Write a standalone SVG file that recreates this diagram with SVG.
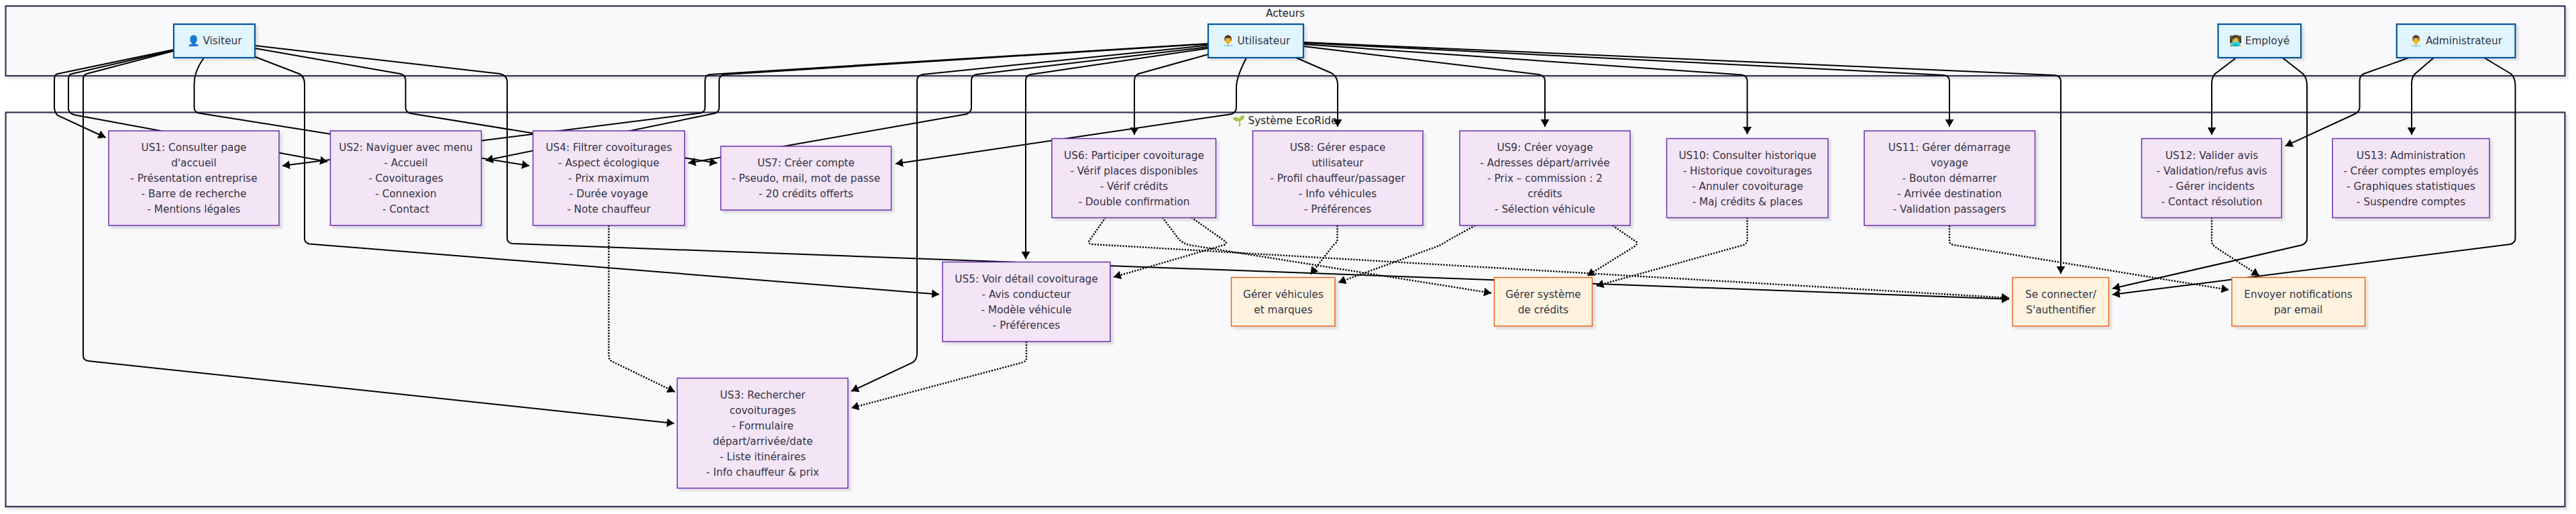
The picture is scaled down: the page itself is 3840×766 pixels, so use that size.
<svg xmlns="http://www.w3.org/2000/svg" width="3840" height="766" viewBox="0 0 3840 766">
<style>
text{font-family:"DejaVu Sans","Noto Sans",sans-serif;font-size:15.3px;fill:#333344;text-anchor:middle}
.frame{fill:#f9f9fb;stroke:#333355;stroke-width:2.2;filter:url(#sh)}
.actor{fill:#e1f5fe;stroke:#01579b;stroke-width:2.2;filter:url(#sh)}
.us{fill:#f3e5f5;stroke:#6a2db0;stroke-width:1.5;filter:url(#sh)}
.svc{fill:#fff3e0;stroke:#e8641e;stroke-width:1.5;filter:url(#sh)}
.e{fill:none;stroke:#000;stroke-width:2;marker-end:url(#arr)}
.d{stroke-dasharray:2.2 2;stroke-width:2.4}
.t{fill:#222}
</style>
<defs>
<filter id="sh" x="-5%" y="-5%" width="110%" height="115%"><feDropShadow dx="4" dy="4" stdDeviation="1.5" flood-color="#000" flood-opacity="0.1"/></filter>
<marker id="arr" viewBox="0 0 11 13" refX="11" refY="6.5" markerWidth="11" markerHeight="13" markerUnits="userSpaceOnUse" orient="auto"><path d="M0,0L11,6.5L0,13z" fill="#000"/></marker>
</defs>
<rect width="3840" height="766" fill="#fff"/>
<g id="frames">
<g id="acteurs"><rect class="frame" x="8.5" y="9" width="3815" height="104"/><text class="t" x="1916" y="25">Acteurs</text></g>
<g id="systeme"><rect class="frame" x="8.5" y="167.5" width="3815" height="587.5"/><text class="t" x="1915" y="184.5">🌱 Système EcoRide</text></g>
</g>
<g id="connectors">
<path class="e" d="M259,74L86,110Q81,111 81,118L81,160Q81,167 86,172L157.5,205"/>
<path class="e" d="M259,75L107,110Q102,111 102,118L102,162Q102,168 110,171L488,241"/>
<path class="e" d="M259,76L129,110Q124,112 124,118L124,530Q124,537 132,538L1005,631"/>
<path class="e" d="M304,86Q289.5,106 289.5,125L289.5,160Q289.5,167 296,168.5L789,247"/>
<path class="e" d="M381,85L446,110Q454,114 454,125L454,355Q454,362 461,363.5L1400,438.7"/>
<path class="e" d="M380,72L597,110Q604.6,112 604.6,120L604.6,160Q604.6,167 612,169L1069,243"/>
<path class="e" d="M380,68L746,110Q756,113 756,122L756,355Q756,362 764,363L2995,445.7"/>
<path class="e" d="M1801,65L1058,111Q1051,112 1051,120L1051,160Q1051,167 1044,168.5L421,247"/>
<path class="e" d="M1801,65.5L1080,111Q1072,112 1072,120L1072,160Q1072,167 1065,169L724,239"/>
<path class="e" d="M1801,67.5L1375,111Q1367,113 1367,120L1367,527Q1367,535 1361,540L1269,583"/>
<path class="e" d="M1801,70L1455,111Q1448,113 1448,120L1448,160Q1448,167 1441,170L1026,243"/>
<path class="e" d="M1801,72L1536,111Q1529,113 1529,120L1529,386"/>
<path class="e" d="M1801,81L1697,110Q1691,113 1691,120L1691,201"/>
<path class="e" d="M1858,86Q1843,115 1843,130L1843,160Q1843,167 1836,170L1335,244"/>
<path class="e" d="M1932,86L1985,109Q1994,115 1994,125L1994,189"/>
<path class="e" d="M1943,69L2294,111Q2303,113 2303,120L2303,189"/>
<path class="e" d="M1943,66L2596,111.5Q2604.6,113 2604.6,121L2604.6,200"/>
<path class="e" d="M1943,64L2898,112Q2906,113 2906,121L2906,189"/>
<path class="e" d="M1943,63L3062,112Q3072,113 3072,121L3072,408"/>
<path class="e" d="M3333.5,86L3302,110Q3297,115 3297,125L3297,201"/>
<path class="e" d="M3402.4,86L3433,110Q3439,116 3439,128L3439,355Q3439,362 3432,365L3149,430"/>
<path class="e" d="M3591,86L3523.5,110Q3517.5,113 3517.5,120L3517.5,160Q3517.5,166 3510,170L3406.6,217.7"/>
<path class="e" d="M3628,86L3600,110Q3595,115 3595,125L3595,201"/>
<path class="e" d="M3703,86L3743,110Q3749.5,116 3749.5,128L3749.5,355Q3749.5,362 3742,364L3149,439"/>
<path class="e d" d="M907.5,336L907.5,531Q907.5,535 911,538L1006,584"/>
<path class="e d" d="M1530,509L1530,534Q1530,538 1525,540L1269,608"/>
<path class="e d" d="M1648,324L1623,360Q1622,363 1628,364L2995,444"/>
<path class="e d" d="M1733,324L1756,355Q1762,362 1772,365L2223,436.7"/>
<path class="e d" d="M1776,324L1827,360Q1829,363 1825,365L1660,413"/>
<path class="e d" d="M1993.6,336L1993.6,355Q1993.6,362 1988,365L1953.5,409"/>
<path class="e d" d="M2199,336L2159,358Q2150,364 2143,367L1995,421"/>
<path class="e d" d="M2404,336L2440,361Q2441,364 2437,367L2366,411"/>
<path class="e d" d="M2604.6,324L2604.6,358Q2604.6,362 2599.5,365L2379.5,426"/>
<path class="e d" d="M2906,336L2906,360Q2906,363 2912,365L3322.6,432"/>
<path class="e d" d="M3297,324L3297,360Q3297,364 3302,368L3367.6,410.7"/>
</g>
<g id="visiteur"><rect class="actor" x="259" y="36" width="121" height="50"/><text x="319.5" y="66">👤 Visiteur</text></g>
<g id="utilisateur"><rect class="actor" x="1801" y="36" width="142" height="50"/><text x="1872" y="66">👨‍💼 Utilisateur</text></g>
<g id="employe"><rect class="actor" x="3306.5" y="36" width="123.5" height="50"/><text x="3368" y="66">👩‍💻 Employé</text></g>
<g id="administrateur"><rect class="actor" x="3572.7" y="36" width="176.8" height="50"/><text x="3661" y="66">👨‍💼 Administrateur</text></g>
<g id="us1"><rect class="us" x="162" y="195" width="254" height="141"/><text><tspan x="289" y="224.5">US1: Consulter page</tspan><tspan x="289" dy="23">d'accueil</tspan><tspan x="289" dy="23">- Présentation entreprise</tspan><tspan x="289" dy="23">- Barre de recherche</tspan><tspan x="289" dy="23">- Mentions légales</tspan></text></g>
<g id="us2"><rect class="us" x="492.5" y="195" width="225" height="141"/><text><tspan x="605" y="224.5">US2: Naviguer avec menu</tspan><tspan x="605" dy="23">- Accueil</tspan><tspan x="605" dy="23">- Covoiturages</tspan><tspan x="605" dy="23">- Connexion</tspan><tspan x="605" dy="23">- Contact</tspan></text></g>
<g id="us3"><rect class="us" x="1009.5" y="563.5" width="254.5" height="164"/><text><tspan x="1137" y="593.5">US3: Rechercher</tspan><tspan x="1137" dy="23">covoiturages</tspan><tspan x="1137" dy="23">- Formulaire</tspan><tspan x="1137" dy="23">départ/arrivée/date</tspan><tspan x="1137" dy="23">- Liste itinéraires</tspan><tspan x="1137" dy="23">- Info chauffeur &amp; prix</tspan></text></g>
<g id="us4"><rect class="us" x="794.5" y="195" width="226" height="141"/><text><tspan x="907.5" y="224.5">US4: Filtrer covoiturages</tspan><tspan x="907.5" dy="23">- Aspect écologique</tspan><tspan x="907.5" dy="23">- Prix maximum</tspan><tspan x="907.5" dy="23">- Durée voyage</tspan><tspan x="907.5" dy="23">- Note chauffeur</tspan></text></g>
<g id="us5"><rect class="us" x="1405" y="390.5" width="250" height="118.5"/><text><tspan x="1530" y="420.5">US5: Voir détail covoiturage</tspan><tspan x="1530" dy="23">- Avis conducteur</tspan><tspan x="1530" dy="23">- Modèle véhicule</tspan><tspan x="1530" dy="23">- Préférences</tspan></text></g>
<g id="us6"><rect class="us" x="1568" y="206.5" width="244.5" height="118"/><text><tspan x="1690.5" y="236.5">US6: Participer covoiturage</tspan><tspan x="1690.5" dy="23">- Vérif places disponibles</tspan><tspan x="1690.5" dy="23">- Vérif crédits</tspan><tspan x="1690.5" dy="23">- Double confirmation</tspan></text></g>
<g id="us7"><rect class="us" x="1074.5" y="218" width="254" height="95"/><text><tspan x="1201.5" y="247.5">US7: Créer compte</tspan><tspan x="1201.5" dy="23">- Pseudo, mail, mot de passe</tspan><tspan x="1201.5" dy="23">- 20 crédits offerts</tspan></text></g>
<g id="us8"><rect class="us" x="1867.5" y="195" width="253.5" height="141"/><text><tspan x="1994" y="224.5">US8: Gérer espace</tspan><tspan x="1994" dy="23">utilisateur</tspan><tspan x="1994" dy="23">- Profil chauffeur/passager</tspan><tspan x="1994" dy="23">- Info véhicules</tspan><tspan x="1994" dy="23">- Préférences</tspan></text></g>
<g id="us9"><rect class="us" x="2176" y="195" width="254" height="141"/><text><tspan x="2303" y="224.5">US9: Créer voyage</tspan><tspan x="2303" dy="23">- Adresses départ/arrivée</tspan><tspan x="2303" dy="23">- Prix – commission : 2</tspan><tspan x="2303" dy="23">crédits</tspan><tspan x="2303" dy="23">- Sélection véhicule</tspan></text></g>
<g id="us10"><rect class="us" x="2484.5" y="206.5" width="240.5" height="118"/><text><tspan x="2605" y="236.5">US10: Consulter historique</tspan><tspan x="2605" dy="23">- Historique covoiturages</tspan><tspan x="2605" dy="23">- Annuler covoiturage</tspan><tspan x="2605" dy="23">- Maj crédits &amp; places</tspan></text></g>
<g id="us11"><rect class="us" x="2779" y="195" width="254.5" height="141"/><text><tspan x="2906" y="224.5">US11: Gérer démarrage</tspan><tspan x="2906" dy="23">voyage</tspan><tspan x="2906" dy="23">- Bouton démarrer</tspan><tspan x="2906" dy="23">- Arrivée destination</tspan><tspan x="2906" dy="23">- Validation passagers</tspan></text></g>
<g id="us12"><rect class="us" x="3192.5" y="206.5" width="208.5" height="118"/><text><tspan x="3297" y="236.5">US12: Valider avis</tspan><tspan x="3297" dy="23">- Validation/refus avis</tspan><tspan x="3297" dy="23">- Gérer incidents</tspan><tspan x="3297" dy="23">- Contact résolution</tspan></text></g>
<g id="us13"><rect class="us" x="3477" y="206.5" width="234" height="118"/><text><tspan x="3594" y="236.5">US13: Administration</tspan><tspan x="3594" dy="23">- Créer comptes employés</tspan><tspan x="3594" dy="23">- Graphiques statistiques</tspan><tspan x="3594" dy="23">- Suspendre comptes</tspan></text></g>
<g id="vehicules"><rect class="svc" x="1835.5" y="413.5" width="154.5" height="72.5"/><text><tspan x="1913" y="443.5">Gérer véhicules</tspan><tspan x="1913" dy="23">et marques</tspan></text></g>
<g id="credits"><rect class="svc" x="2227.5" y="413.5" width="146" height="72.5"/><text><tspan x="2300.5" y="443.5">Gérer système</tspan><tspan x="2300.5" dy="23">de crédits</tspan></text></g>
<g id="auth"><rect class="svc" x="3000" y="413.5" width="143.5" height="72.5"/><text><tspan x="3072" y="443.5">Se connecter/</tspan><tspan x="3072" dy="23">S'authentifier</tspan></text></g>
<g id="notif"><rect class="svc" x="3327" y="413.5" width="198.5" height="72.5"/><text><tspan x="3426" y="443.5">Envoyer notifications</tspan><tspan x="3426" dy="23">par email</tspan></text></g>
</svg>
